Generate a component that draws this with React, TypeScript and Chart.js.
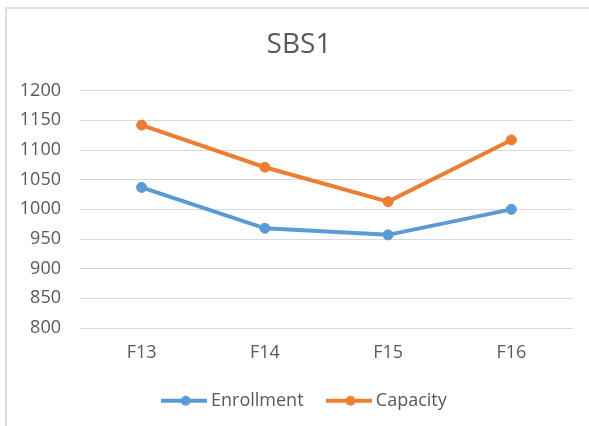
import React, { useEffect, useRef } from "react";
import { Chart, registerables } from "chart.js";

Chart.register(...registerables);

const categories = ["F13", "F14", "F15", "F16"];
const enrollment = [1037, 968, 957, 1000];
const capacity = [1142, 1071, 1013, 1117];
const seriesNames = ["Enrollment", "Capacity"];
const seriesColors = ["#5b9bd5", "#ed7d31"];
const yMin = 800;
const yMax = 1200;
const yStep = 50;

function legendImage(color: string): HTMLCanvasElement {
  const c = document.createElement("canvas");
  c.width = 46;
  c.height = 12;
  const ctx = c.getContext("2d")!;
  ctx.strokeStyle = color;
  ctx.lineWidth = 4;
  ctx.beginPath();
  ctx.moveTo(0, 6);
  ctx.lineTo(46, 6);
  ctx.stroke();
  ctx.fillStyle = color;
  ctx.beginPath();
  ctx.arc(25, 6, 5, 0, Math.PI * 2);
  ctx.fill();
  return c;
}

const shiftBoxes = {
  id: "shiftBoxes",
  afterLayout(chart: any) {
    if (chart.legend) {
      chart.legend.left += 10.6;
      chart.legend.right += 10.6;
    }
    if (chart.titleBlock) {
      chart.titleBlock.left += 3.5;
      chart.titleBlock.right += 3.5;
    }
  },
};

export default function App() {
  const ref = useRef<HTMLCanvasElement | null>(null);
  useEffect(() => {
    if (!ref.current) return;
    const images = seriesColors.map(legendImage);
    const font = "'Open Sans', sans-serif";
    const chart = new Chart(ref.current, {
      type: "line",
      data: {
        labels: categories,
        datasets: [enrollment, capacity].map((d, i) => ({
          label: seriesNames[i],
          data: d,
          borderColor: seriesColors[i],
          backgroundColor: seriesColors[i],
          borderWidth: 4,
          pointRadius: 5,
          pointBorderWidth: 1,
          tension: 0,
        })),
      },
      plugins: [shiftBoxes],
      options: {
        responsive: false,
        animation: false,
        layout: { padding: { left: 18, right: 16, top: 0, bottom: 6.3 } },
        plugins: {
          title: {
            display: true,
            text: "SBS1",
            color: "#595959",
            font: { family: font, size: 28, weight: "normal" },
            padding: { top: 28.2, bottom: 28.9 },
          },
          legend: {
            position: "bottom",
            labels: {
              usePointStyle: true,
              pointStyleWidth: 36.6,
              padding: 26.7,
              color: "#595959",
              font: { family: font, size: 18 },
              generateLabels: (ch: any) => {
                const items = Chart.defaults.plugins.legend.labels.generateLabels(ch);
                return items.map((it: any, i: number) => ({ ...it, pointStyle: images[i] }));
              },
            },
          },
          tooltip: { enabled: false },
        },
        scales: {
          x: {
            offset: true,
            grid: { display: false, drawTicks: false },
            border: { display: false },
            ticks: { color: "#595959", font: { family: font, size: 18 }, padding: 14.2 },
            afterFit: (scale: any) => {
              scale.height = 37;
            },
          },
          y: {
            min: yMin,
            max: yMax,
            grid: { color: "#d9d9d9", lineWidth: 1, drawTicks: false },
            border: { display: false },
            ticks: {
              stepSize: yStep,
              color: "#595959",
              font: { family: font, size: 18 },
              padding: 19,
              callback: (v: any) => String(v),
            },
            afterFit: (scale: any) => {
              scale.width = 62;
            },
          },
        },
      },
    });
    return () => chart.destroy();
  }, []);
  return (
    <div style={{ position: "absolute", left: 0, top: 0, width: 589, height: 426, overflow: "hidden", background: "#fff" }}>
      <canvas ref={ref} width={589} height={426} style={{ position: "absolute", left: 0, top: 0, width: 589, height: 426 }} />
      <div
        style={{
          position: "absolute",
          left: 5,
          top: 7,
          width: 700,
          height: 600,
          borderTop: "2px solid #dedede",
          borderLeft: "2px solid #dedede",
          pointerEvents: "none",
        }}
      />
    </div>
  );
}
